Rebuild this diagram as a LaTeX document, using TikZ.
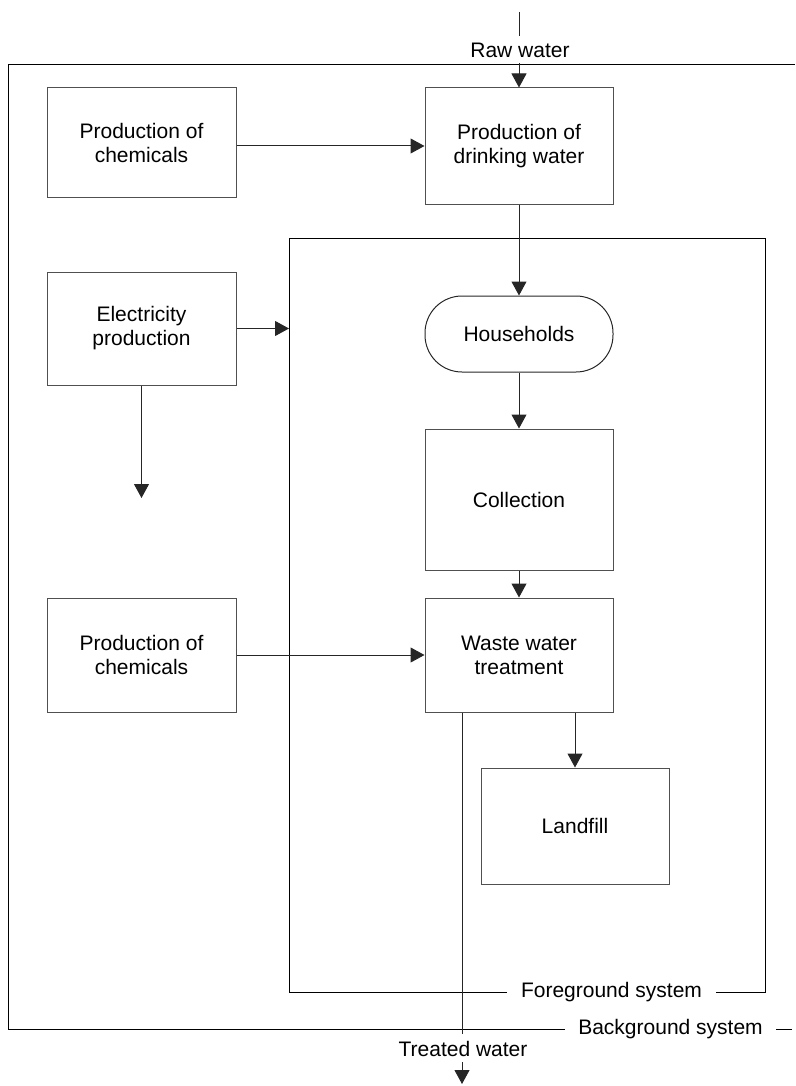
\documentclass[tikz,border=0pt]{standalone}
\usepackage{fontspec}
\setmainfont{Liberation Sans}
\usetikzlibrary{arrows.meta}
\definecolor{edgegray}{HTML}{505050}
\begin{document}
\begin{tikzpicture}[x=1pt,y=-1pt,
  every node/.style={font=\fontsize{21}{24}\selectfont, align=center, inner sep=0pt},
  procbox/.style={draw=edgegray, line width=1pt, minimum width=#1},
  procbox/.default=189,
  frameline/.style={draw=black, line width=1pt},
  flow/.style={draw=black!85, line width=1pt},
  flowarrow/.style={flow, -{Triangle[length=14pt,width=15pt]}},
  framelabel/.style={inner xsep=14pt, inner ysep=2pt}
]
\useasboundingbox (0,0) rectangle (795,1086);

% left column: supporting processes
\node[procbox, minimum height=109] (chemA) at (141.5,142.5) {Production of\\chemicals};
\node[procbox, minimum height=113] (elec)  at (141.5,328.5) {Electricity\\production};
\node[procbox, minimum height=114] (chemB) at (141.5,655)   {Production of\\chemicals};

% right column: water chain
\node[procbox=188, minimum height=116] (drink) at (519,146) {Production of\\drinking water};
\node[draw=black!85, line width=1pt, rounded corners=37pt, minimum width=188, minimum height=76] (house) at (519,334) {Households};
\node[procbox=188, minimum height=141] (coll) at (519,499.5) {Collection};
\node[procbox=188, minimum height=114] (wwt) at (519,655) {Waste water\\treatment};
\node[procbox=188, minimum height=116] (land) at (575,826) {Landfill};

% system boundaries
\coordinate (fgNW) at (289,238);
\coordinate (fgNE) at (765,238);
\coordinate (fgSE) at (765,992);
\coordinate (fgSW) at (289,992);
\node[framelabel] (fglabel) at (611.5,992) {Foreground system};
\draw[frameline] (fglabel.west) -- (fgSW) -- (fgNW) -- (fgNE) -- (fgSE) -- (fglabel.east);

\coordinate (bgNW) at (8,65);
\coordinate (bgNE) at (795,65);
\coordinate (bgSW) at (8,1029);
\coordinate (bgSE) at (792,1029);
\node[framelabel, inner xsep=13.5pt] (bglabel) at (670.5,1029) {Background system};
\draw[frameline] (bglabel.west) -- (bgSW) -- (bgNW) -- (bgNE);
\draw[frameline] (bglabel.east) -- (bgSE);

% raw water inflow
\coordinate (rawTop) at (519,12);
\coordinate (rawMid) at (519,36);
\coordinate (rawIn)  at (519,63);
\node (raw) at (520,50) {Raw water};
\draw[flow] (rawTop) -- (rawMid);
\draw[flowarrow] (rawIn) -- (drink.north);

% flows
\draw[flowarrow] (chemA.east |- drink.west) -- (drink.west);
\draw[flowarrow] (drink.south) -- (house.north);
\draw[flowarrow] (elec.east) -- (elec.east -| fgNW);
\coordinate (elecOut) at (141.5,498);
\draw[flowarrow] (elec.south) -- (elecOut);
\draw[flowarrow] (house.south) -- (coll.north);
\draw[flowarrow] (coll.south) -- (wwt.north);
\draw[flowarrow] (chemB.east) -- (wwt.west);
\draw[flowarrow] (wwt.south -| land.north) -- (land.north);

% treated water outflow
\coordinate (twBase) at (462,712);
\coordinate (twMid) at (462,1034);
\coordinate (twOut) at (462,1062);
\coordinate (twEnd) at (462,1084);
\node (tw) at (463,1049) {Treated water};
\draw[flow] (wwt.south -| twBase) -- (twMid);
\draw[flowarrow] (twOut) -- (twEnd);
\end{tikzpicture}
\end{document}
